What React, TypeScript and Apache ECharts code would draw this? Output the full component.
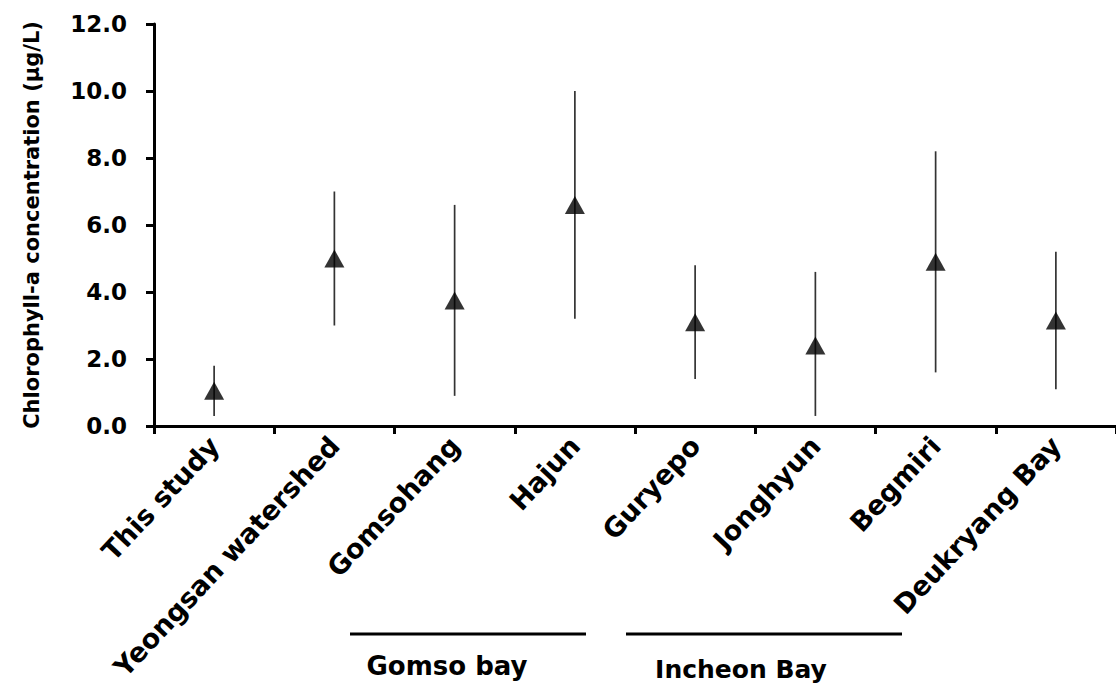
import React, { useEffect, useRef } from "react";
import * as echarts from "echarts";

const categories = [
  "This study",
  "Yeongsan watershed",
  "Gomsohang",
  "Hajun",
  "Guryepo",
  "Jonghyun",
  "Begmiri",
  "Deukryang Bay",
];
const meanValues = [1.05, 5.0, 3.75, 6.6, 3.1, 2.4, 4.9, 3.15];
const lowValues = [0.3, 3.0, 0.9, 3.2, 1.4, 0.3, 1.6, 1.1];
const highValues = [1.8, 7.0, 6.6, 10.0, 4.8, 4.6, 8.2, 5.2];

const yMin = 0;
const yMax = 12;
const yInterval = 2;
const yTitle = "Chlorophyll-a concentration (μg/L)";
const groupLabels = ["Gomso bay", "Incheon Bay"];

const FONT = "'DejaVu Sans', 'Liberation Sans', Arial, sans-serif";

export default function App() {
  const ref = useRef<HTMLDivElement>(null);
  useEffect(() => {
    if (!ref.current) return;
    const chart = echarts.init(ref.current, undefined, { renderer: "svg" });
    chart.setOption({
      animation: false,
      backgroundColor: "#ffffff",
      grid: {
        left: 154,
        right: 0,
        top: 24,
        bottom: 263,
        containLabel: false,
        outerBoundsMode: "none",
      },
      xAxis: {
        type: "category",
        data: categories,
        boundaryGap: true,
        axisLine: { show: true, lineStyle: { color: "#000", width: 3 } },
        axisTick: { show: true, length: 8, lineStyle: { color: "#000", width: 3 } },
        axisLabel: {
          interval: 0,
          rotate: 47,
          margin: 15,
          padding: [18, 0, 0, 0],
          color: "#000",
          fontFamily: FONT,
          fontWeight: "bold",
          fontSize: 27,
          hideOverlap: false,
        },
        splitLine: { show: false },
      },
      yAxis: {
        type: "value",
        min: yMin,
        max: yMax,
        interval: yInterval,
        name: yTitle,
        nameLocation: "middle",
        nameGap: 112,
        nameRotate: 90,
        nameTextStyle: {
          color: "#000",
          fontFamily: FONT,
          fontWeight: "bold",
          fontSize: 21,
        },
        axisLine: { show: true, lineStyle: { color: "#000", width: 3 } },
        axisTick: { show: true, length: 8, lineStyle: { color: "#000", width: 3 } },
        axisLabel: {
          margin: 27,
          color: "#000",
          fontFamily: FONT,
          fontWeight: "bold",
          fontSize: 23,
          formatter: (v: number) => v.toFixed(1),
        },
        splitLine: { show: false },
      },
      series: [
        {
          type: "custom",
          data: categories.map((_, i) => [i, lowValues[i], highValues[i]]),
          renderItem: (params: any, api: any) => {
            const lo = api.coord([api.value(0), api.value(1)]);
            const hi = api.coord([api.value(0), api.value(2)]);
            return {
              type: "line",
              shape: { x1: lo[0], y1: lo[1], x2: hi[0], y2: hi[1] },
              style: { stroke: "#333", lineWidth: 1.7 },
            };
          },
          z: 1,
        },
        {
          type: "scatter",
          data: meanValues,
          symbol: "triangle",
          symbolSize: [20, 18],
          itemStyle: { color: "#000" },
          z: 2,
        },
      ],
      graphic: [
        {
          type: "line",
          shape: { x1: 350, y1: 634, x2: 586, y2: 634 },
          style: { stroke: "#000", lineWidth: 3 },
        },
        {
          type: "line",
          shape: { x1: 626, y1: 634, x2: 902, y2: 634 },
          style: { stroke: "#000", lineWidth: 3 },
        },
        {
          type: "text",
          x: 447,
          y: 666,
          style: {
            text: groupLabels[0],
            fill: "#000",
            font: `bold 26px ${FONT}`,
            align: "center",
            verticalAlign: "middle",
          },
        },
        {
          type: "text",
          x: 741,
          y: 669,
          style: {
            text: groupLabels[1],
            fill: "#000",
            font: `bold 25px ${FONT}`,
            align: "center",
            verticalAlign: "middle",
          },
        },
      ],
    });
    return () => chart.dispose();
  }, []);
  return (
    <div
      ref={ref}
      style={{ position: "absolute", left: 0, top: 0, width: 1116, height: 689 }}
    />
  );
}
